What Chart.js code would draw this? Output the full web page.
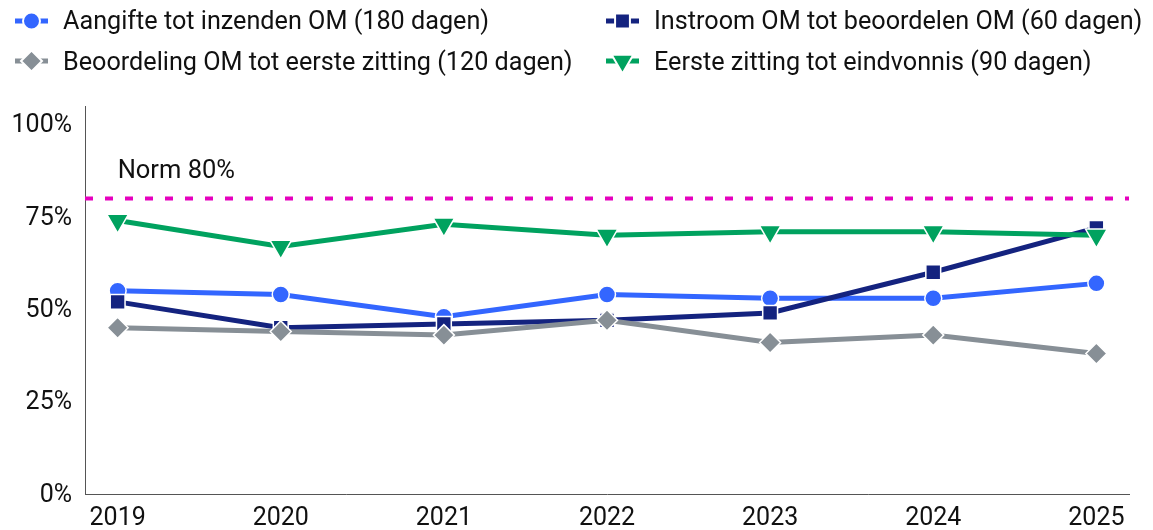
<!DOCTYPE html>
<html>
<head>
<meta charset="utf-8">
<script src="https://cdn.jsdelivr.net/npm/chart.js@4.4.1/dist/chart.umd.min.js"></script>
<style>
  html, body { margin: 0; padding: 0; background: #ffffff; }
  #wrap { position: relative; width: 1153px; height: 530px; overflow: hidden; }
  #chart { position: absolute; left: 0; top: 0; }
  #legend { position: absolute; left: 0; top: 0; width: 1153px; height: 90px; font-family: Roboto, "Noto Sans", sans-serif; font-size: 25.2px; color: #111111; }
  .lg-mark { position: absolute; }
  .lg-text { position: absolute; white-space: nowrap; line-height: 25px; }
</style>
</head>
<body>
<div id="wrap">
  <canvas id="chart" width="1153" height="530"></canvas>
  <div id="legend"></div>
</div>
<script>
// ---- Data ----
const categories = ['2019', '2020', '2021', '2022', '2023', '2024', '2025'];
const seriesNames = [
  'Aangifte tot inzenden OM (180 dagen)',
  'Instroom OM tot beoordelen OM (60 dagen)',
  'Beoordeling OM tot eerste zitting (120 dagen)',
  'Eerste zitting tot eindvonnis (90 dagen)'
];
const aangifte      = [55, 54, 48, 54, 53, 53, 57];
const instroom      = [52, 45, 46, 47, 49, 60, 72];
const beoordeling   = [45, 44, 43, 47, 41, 43, 38];
const eersteZitting = [74, 67, 73, 70, 71, 71, 70];
const normValue = 80;
const normLabel = 'Norm 80%';
const yTickValues = [0, 25, 50, 75, 100];

// ---- Styles ----
const FONT = 'Roboto, "Noto Sans", sans-serif';
const styles = [
  { color: '#3366FF', pointStyle: 'circle',   radius: 8.5, rotation: 0,   order: 4 },
  { color: '#14237F', pointStyle: 'rect',     radius: 10.5, rotation: 0,  order: 3 },
  { color: '#878F96', pointStyle: 'rectRot',  radius: 10.5, rotation: 0,  order: 2 },
  { color: '#00A25F', pointStyle: 'triangle', radius: 12.5, rotation: 180, order: 1 }
];
const seriesValues = [aangifte, instroom, beoordeling, eersteZitting];
const X_MIN = -0.2, X_MAX = categories.length - 1 + 0.2;

const toPoints = vals => vals.map((v, i) => ({ x: i, y: v }));

const datasets = seriesValues.map((vals, k) => ({
  label: seriesNames[k],
  data: toPoints(vals),
  borderColor: styles[k].color,
  backgroundColor: styles[k].color,
  borderWidth: 5,
  pointStyle: styles[k].pointStyle,
  pointRadius: styles[k].radius,
  pointHoverRadius: styles[k].radius,
  pointRotation: styles[k].rotation,
  pointBackgroundColor: styles[k].color,
  pointBorderColor: '#ffffff',
  pointBorderWidth: 1.5,
  tension: 0,
  order: styles[k].order
}));

datasets.push({
  label: normLabel,
  data: [{ x: X_MIN, y: normValue }, { x: X_MAX, y: normValue }],
  borderColor: '#E600BE',
  borderWidth: 4,
  borderDash: [8, 12],
  pointRadius: 0,
  order: 5
});

const normLabelPlugin = {
  id: 'normLabel',
  afterDatasetsDraw(chart) {
    const { ctx, scales } = chart;
    const x = scales.x.getPixelForValue(0);
    const y = scales.y.getPixelForValue(normValue);
    ctx.save();
    ctx.font = '25.5px ' + FONT;
    ctx.fillStyle = '#111111';
    ctx.textAlign = 'left';
    ctx.textBaseline = 'alphabetic';
    ctx.fillText(normLabel, x, y - 20);
    ctx.restore();
  }
};

const chart = new Chart(document.getElementById('chart'), {
  type: 'line',
  data: { datasets },
  options: {
    responsive: false,
    animation: false,
    events: [],
    layout: { padding: { top: 106, right: 24, left: 0, bottom: 0 } },
    plugins: {
      legend: { display: false },
      tooltip: { enabled: false },
      title: { display: false }
    },
    scales: {
      x: {
        type: 'linear',
        min: X_MIN,
        max: X_MAX,
        grid: { display: false, drawTicks: false },
        border: { display: true, color: '#555555', width: 1 },
        afterBuildTicks: s => { s.ticks = categories.map((_, i) => ({ value: i })); },
        afterFit: s => { s.height = 36; },
        ticks: {
          autoSkip: false,
          maxRotation: 0,
          padding: 10,
          color: '#111111',
          font: { family: FONT, size: 25 },
          callback: v => categories[v] !== undefined ? categories[v] : ''
        }
      },
      y: {
        type: 'linear',
        min: 0,
        max: 105,
        grid: { display: false, drawTicks: false },
        border: { display: true, color: '#555555', width: 1 },
        afterBuildTicks: s => { s.ticks = yTickValues.map(v => ({ value: v })); },
        afterFit: s => { s.width = 85; },
        ticks: {
          padding: 13,
          labelOffset: 1.5,
          color: '#111111',
          font: { family: FONT, size: 25 },
          callback: v => v + '%'
        }
      }
    }
  },
  plugins: [normLabelPlugin]
});

// ---- HTML legend (two aligned columns) ----
const legendEl = document.getElementById('legend');
const colMarkX = [15, 606];
const colTextX = [63, 654];
const rowY = [20.5, 61];
seriesNames.forEach((name, k) => {
  const col = k % 2, row = Math.floor(k / 2);
  const st = styles[k];
  const cv = document.createElement('canvas');
  cv.width = 40; cv.height = 32;
  cv.className = 'lg-mark';
  cv.style.left = colMarkX[col] + 'px';
  cv.style.top = (rowY[row] - 16) + 'px';
  legendEl.appendChild(cv);
  const c = cv.getContext('2d');
  c.strokeStyle = st.color;
  c.lineWidth = 5;
  c.beginPath(); c.moveTo(0, 16); c.lineTo(33, 16); c.stroke();
  c.fillStyle = st.color;
  c.strokeStyle = '#ffffff';
  c.lineWidth = 2;
  Chart.helpers.drawPoint(c, { pointStyle: st.pointStyle, radius: st.radius, rotation: st.rotation, borderWidth: 2 }, 16.5, 16);
  const sp = document.createElement('span');
  sp.className = 'lg-text';
  sp.textContent = name;
  sp.style.left = colTextX[col] + 'px';
  sp.style.top = (rowY[row] - 12.4) + 'px';
  legendEl.appendChild(sp);
});
</script>
</body>
</html>
